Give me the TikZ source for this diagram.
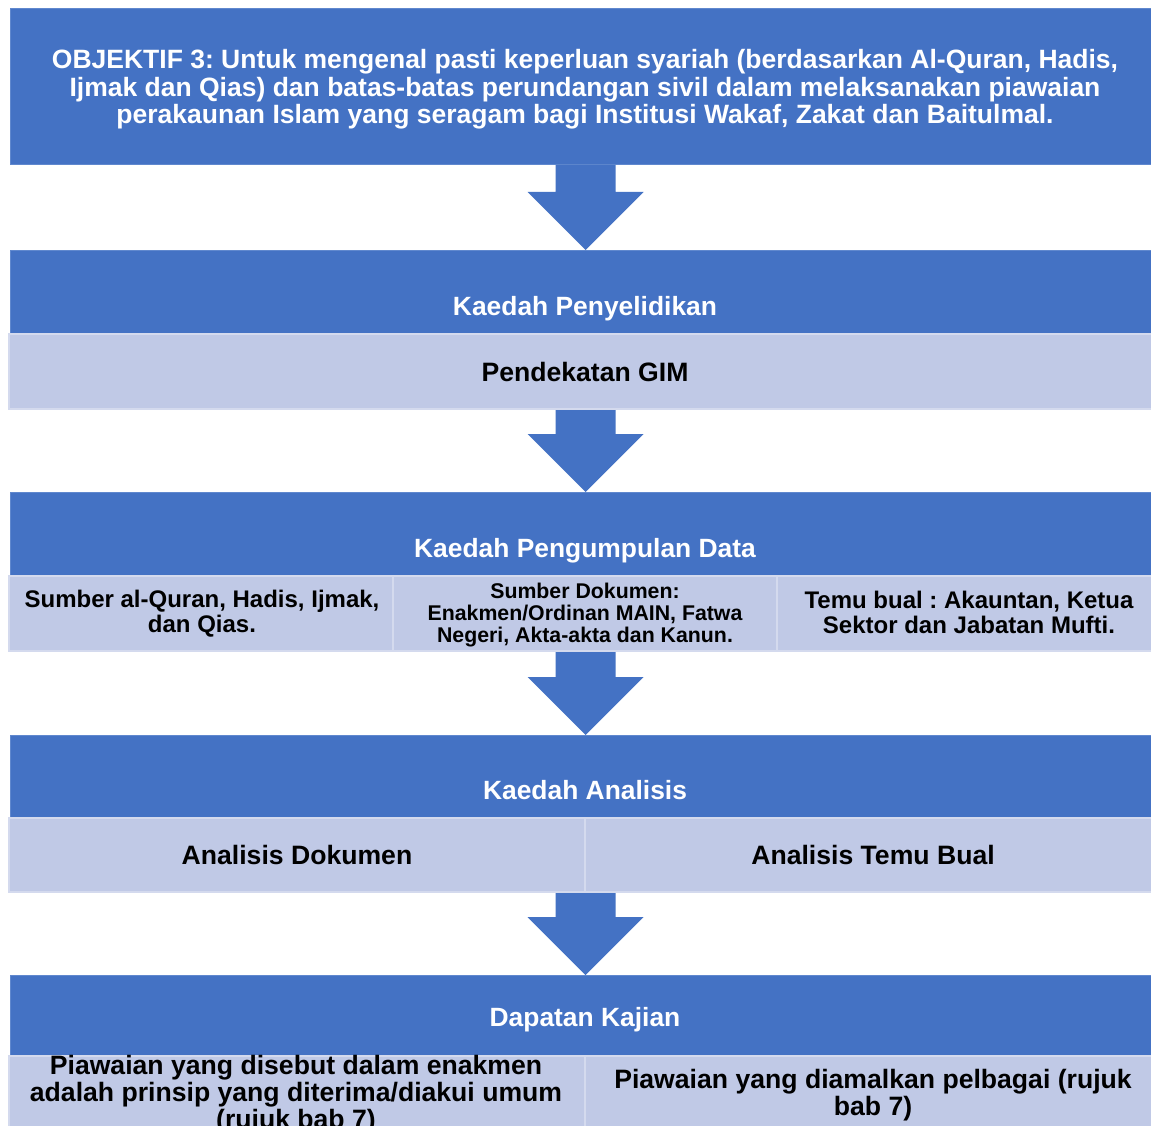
\documentclass[tikz,border=0pt]{standalone}
\usepackage{fontspec}
\setmainfont{Liberation Sans}
\usetikzlibrary{calc}
\frenchspacing

\definecolor{hdrblue}{RGB}{68,114,196}
\definecolor{hdredge}{RGB}{96,136,206}
\definecolor{cellfill}{RGB}{192,201,230}
\definecolor{celledge}{RGB}{212,218,238}

\tikzset{
  hdr/.style={fill=hdrblue, draw=hdredge, line width=1pt, inner sep=0pt,
    anchor=north west, minimum width=1150pt},
  cell/.style={fill=cellfill, draw=celledge, line width=2pt, inner sep=0pt,
    anchor=north west},
  hdrtext/.style={text=white, font=\bfseries\fontsize{26.4}{28}\selectfont,
    align=center, inner sep=0pt},
  objtext/.style={text=white, font=\bfseries\fontsize{26.5}{27.5}\selectfont,
    align=center, inner sep=0pt},
  celltext/.style={text=black, font=\bfseries\fontsize{26.6}{27}\selectfont,
    align=center, inner sep=0pt},
  smalltext/.style={text=black, font=\bfseries\fontsize{24}{25}\selectfont,
    align=center, inner sep=0pt},
  tinytext/.style={text=black, font=\bfseries\fontsize{21.3}{22}\selectfont,
    align=center, inner sep=0pt},
  flowarrow/.style={fill=hdrblue}
}

% block arrow from the bottom of node #1 down to the top of node #2
\newcommand\blockarrow[2]{%
  \fill[flowarrow]
    ($(#2.north |- #1.south)+(-30,0)$) -- ($(#2.north)+(-30,-58)$)
    -- ($(#2.north)+(-58,-58)$) -- (#2.north)
    -- ($(#2.north)+(58,-58)$) -- ($(#2.north)+(30,-58)$)
    -- ($(#2.north |- #1.south)+(30,0)$) -- cycle;}

\begin{document}
\begin{tikzpicture}[x=1pt,y=-1pt]
  \useasboundingbox (0,0) rectangle (1151,1126);
  \clip (0,0) rectangle (1151,1126);
  \fill[white] (0,0) rectangle (1151,1126);

  % objective
  \node[hdr, minimum height=156pt] (obj) at (10,8) {};
  \node[objtext] (objtxt) at (585,89.5)
    {OBJEKTIF 3: Untuk mengenal pasti keperluan syariah (berdasarkan Al-Quran, Hadis,\\
     Ijmak dan Qias) dan batas-batas perundangan sivil dalam melaksanakan piawaian\\
     perakaunan Islam yang seragam bagi Institusi Wakaf, Zakat dan Baitulmal.};

  % research method
  \node[hdr, minimum height=83pt] (kp) at (10,250) {};
  \node[hdrtext] (kptxt) at (585,309) {Kaedah Penyelidikan};
  \node[cell, minimum width=1152pt, minimum height=75pt] (gim) at (8,333) {};
  \node[celltext] (gimtxt) at (gim.center) {Pendekatan GIM};

  % data collection
  \node[hdr, minimum height=83pt] (kd) at (10,492) {};
  \node[hdrtext] (kdtxt) at (585,551) {Kaedah Pengumpulan Data};
  \node[cell, minimum width=384pt, minimum height=75pt] (d1) at (8,575) {};
  \node[cell, minimum width=384pt, minimum height=75pt] (d2) at (392,575) {};
  \node[cell, minimum width=384pt, minimum height=75pt] (d3) at (776,575) {};
  \node[smalltext] (d1txt) at ($(d1.center)+(1,0.5)$)
    {Sumber al-Quran, Hadis, Ijmak,\\ dan Qias.};
  \node[tinytext] (d2txt) at ($(d2.center)+(0,1.5)$)
    {Sumber Dokumen:\\ Enakmen/Ordinan MAIN, Fatwa\\ Negeri, Akta-akta dan Kanun.};
  \node[smalltext] (d3txt) at ($(d3.center)+(0,-1)$)
    {Temu bual : Akauntan, Ketua\\ Sektor dan Jabatan Mufti.};

  % analysis
  \node[hdr, minimum height=82pt] (ka) at (10,735) {};
  \node[hdrtext] (katxt) at (585,790) {Kaedah Analisis};
  \node[cell, minimum width=576pt, minimum height=74pt] (a1) at (8,817) {};
  \node[cell, minimum width=576pt, minimum height=74pt] (a2) at (584,817) {};
  \node[celltext] (a1txt) at (a1.center) {Analisis Dokumen};
  \node[celltext] (a2txt) at (a2.center) {Analisis Temu Bual};

  % findings
  \node[hdr, minimum height=80pt] (dk) at (10,975) {};
  \node[hdrtext] (dktxt) at (585,1020) {Dapatan Kajian};
  \node[cell, minimum width=576pt, minimum height=110pt] (f1) at (8,1055) {};
  \node[cell, minimum width=576pt, minimum height=110pt] (f2) at (584,1055) {};
  \node[celltext, anchor=north] (f1txt) at (296,1055)
    {Piawaian yang disebut dalam enakmen\\ adalah prinsip yang diterima/diakui umum\\ (rujuk bab 7)};
  \node[celltext, anchor=north] (f2txt) at (873,1069)
    {Piawaian yang diamalkan pelbagai (rujuk\\ bab 7)};

  % flow arrows
  \blockarrow{obj}{kp}
  \blockarrow{gim}{kd}
  \blockarrow{d2}{ka}
  \blockarrow{a1}{dk}
\end{tikzpicture}
\end{document}
